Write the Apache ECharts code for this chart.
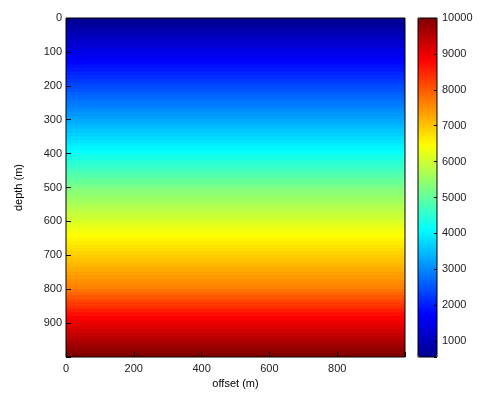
<!DOCTYPE html>
<html>
<head>
<meta charset="utf-8">
<script src="https://cdn.jsdelivr.net/npm/echarts@6/dist/echarts.min.js"></script>
<style>html,body{margin:0;padding:0;background:#fff}#c{width:493px;height:396px}</style>
</head>
<body>
<div id="c"></div>
<script>
// offsets (m), one column per 10 m (cell start)
var offsets = [0,10,20,30,40,50,60,70,80,90,100,110,120,130,140,150,160,170,180,190,200,210,220,230,240,250,260,270,280,290,300,310,320,330,340,350,360,370,380,390,400,410,420,430,440,450,460,470,480,490,500,510,520,530,540,550,560,570,580,590,600,610,620,630,640,650,660,670,680,690,700,710,720,730,740,750,760,770,780,790,800,810,820,830,840,850,860,870,880,890,900,910,920,930,940,950,960,970,980,990];
// depths (m), one row per 10 m (cell start)
var depths = [0,10,20,30,40,50,60,70,80,90,100,110,120,130,140,150,160,170,180,190,200,210,220,230,240,250,260,270,280,290,300,310,320,330,340,350,360,370,380,390,400,410,420,430,440,450,460,470,480,490,500,510,520,530,540,550,560,570,580,590,600,610,620,630,640,650,660,670,680,690,700,710,720,730,740,750,760,770,780,790,800,810,820,830,840,850,860,870,880,890,900,910,920,930,940,950,960,970,980,990];
// velocity per depth row (same for every offset), estimated from colours
var velocity = [560,660,750,850,940,1040,1130,1230,1320,1420,1510,1610,1700,1790,1880,1970,2060,2150,2240,2330,2420,2510,2600,2690,2780,2870,2960,3050,3140,3220,3310,3400,3490,3580,3670,3760,3850,3940,4030,4120,4230,4330,4440,4540,4650,4750,4860,4960,5070,5180,5280,5370,5450,5540,5620,5710,5790,5880,5960,6050,6140,6220,6310,6390,6480,6550,6630,6710,6780,6860,6940,7020,7090,7170,7250,7320,7400,7480,7560,7630,7760,7890,8020,8160,8290,8420,8560,8690,8820,8930,9040,9140,9250,9360,9460,9570,9680,9790,9890,10000];
var cellSize = 10;
var colorbarTicks = [1000,2000,3000,4000,5000,6000,7000,8000,9000,10000];
var xTickLabels = [0,200,400,600,800];
var yTickLabels = [0,100,200,300,400,500,600,700,800,900];
var vMin = 560, vMax = 10000;

var jet = ['#00008f','#0000ff','#0080ff','#00ffff','#80ff80','#ffff00','#ff8000','#ff0000','#800000'];

var cells = [];
for (var i = 0; i < depths.length; i++) {
  for (var j = 0; j < offsets.length; j++) {
    cells.push([offsets[j], depths[i], velocity[i]]);
  }
}

var font = 'Liberation Sans, Arial, sans-serif';
var chart = echarts.init(document.getElementById('c'), null, {renderer: 'canvas'});
chart.setOption({
  backgroundColor: '#fff',
  animation: false,
  grid: [
    {left: 66, top: 18, width: 339, height: 339, show: true, borderColor: '#000', borderWidth: 1, backgroundColor: 'transparent', z: 10},
    {left: 418, top: 18, width: 19, height: 339, show: true, borderColor: '#000', borderWidth: 1, backgroundColor: 'transparent', z: 10}
  ],
  xAxis: [
    {
      type: 'value', gridIndex: 0, min: 0, max: 1000, interval: 200, z: 10, position: 'bottom',
      name: 'offset (m)', nameLocation: 'middle', nameGap: 20,
      nameTextStyle: {fontFamily: font, fontSize: 11, color: '#000'},
      axisLine: {show: false, onZero: false},
      axisTick: {inside: true, length: 5, lineStyle: {color: '#000'}},
      axisLabel: {fontFamily: font, fontSize: 11, color: '#222', margin: 6,
        formatter: function (v) { return xTickLabels.indexOf(v) >= 0 ? String(v) : ''; }},
      splitLine: {show: false}
    },
    {type: 'value', gridIndex: 1, min: 0, max: 1, show: false}
  ],
  yAxis: [
    {
      type: 'value', gridIndex: 0, min: 0, max: 1000, interval: 100, inverse: true, z: 10, position: 'left',
      name: 'depth (m)', nameLocation: 'middle', nameGap: 42, nameRotate: 90,
      nameTextStyle: {fontFamily: font, fontSize: 11, color: '#000'},
      axisLine: {show: false, onZero: false},
      axisTick: {inside: true, length: 5, lineStyle: {color: '#000'}},
      axisLabel: {fontFamily: font, fontSize: 11, color: '#222', margin: 4,
        formatter: function (v) { return yTickLabels.indexOf(v) >= 0 ? String(v) : ''; }},
      splitLine: {show: false}
    },
    {
      type: 'value', gridIndex: 1, position: 'right', min: vMin, max: vMax,
      minInterval: 1000, maxInterval: 1000, z: 10,
      axisLine: {show: false, onZero: false},
      axisTick: {inside: true, length: 3, lineStyle: {color: '#000'}},
      axisLabel: {fontFamily: font, fontSize: 11, color: '#222', margin: 5,
        formatter: function (v) { return colorbarTicks.indexOf(v) >= 0 ? String(v) : ''; }},
      splitLine: {show: false}
    }
  ],
  visualMap: {
    type: 'continuous', seriesIndex: 0, dimension: 2, min: vMin, max: vMax,
    left: 418, top: 18, itemWidth: 19, itemHeight: 339, padding: 0,
    calculable: false, showLabel: false, text: null,
    inRange: {color: jet}
  },
  series: [
    {
      type: 'custom', xAxisIndex: 0, yAxisIndex: 0, data: cells, progressive: 0,
      encode: {x: 0, y: 1},
      clip: true,
      renderItem: function (params, api) {
        var x0 = api.value(0), y0 = api.value(1);
        var p0 = api.coord([x0, y0]);
        var p1 = api.coord([x0 + cellSize, y0 + cellSize]);
        var x = Math.floor(Math.min(p0[0], p1[0])), y = Math.floor(Math.min(p0[1], p1[1]));
        var w = Math.ceil(Math.abs(p1[0] - p0[0])) + 1, h = Math.ceil(Math.abs(p1[1] - p0[1])) + 1;
        var r = echarts.graphic.clipRectByRect(
          {x: x, y: y, width: w, height: h},
          {x: params.coordSys.x, y: params.coordSys.y, width: params.coordSys.width, height: params.coordSys.height});
        if (!r) return null;
        return {type: 'rect', shape: r, style: {fill: api.visual('color')}, silent: true};
      }
    }
  ]
});
</script>
</body>
</html>
